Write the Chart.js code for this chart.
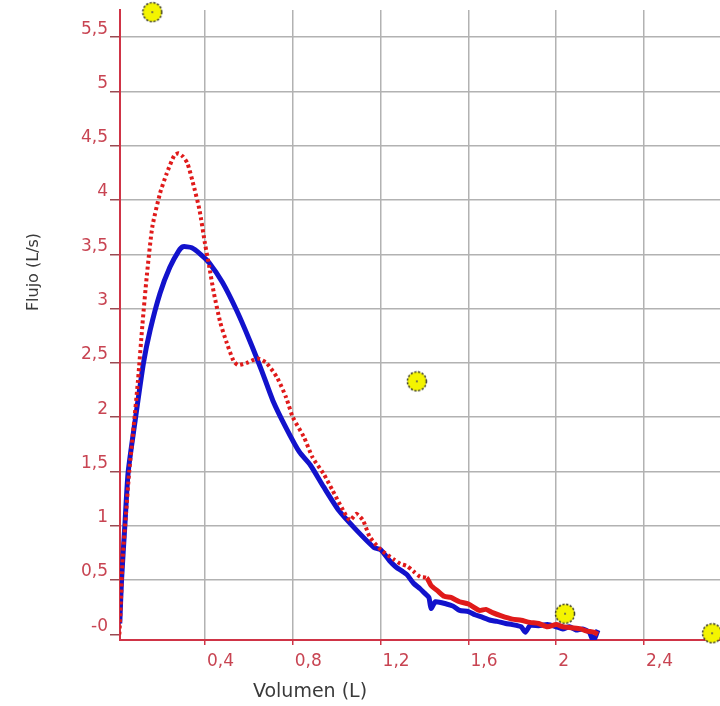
<!DOCTYPE html>
<html>
<head>
<meta charset="utf-8">
<script src="https://cdn.jsdelivr.net/npm/chart.js@4.4.1/dist/chart.umd.min.js"></script>
<style>
    html, body { margin: 0; padding: 0; background: #fff; }
    #wrap { width: 720px; height: 706px; }
</style>
</head>
<body>
<div id="wrap"><canvas id="flow"></canvas></div>
<script>
// flujo-volumen: curva medida (azul) y curva de referencia (roja punteada)
const blueCurve = [
    [0.01, 0.0], [0.012, 0.1], [0.02, 0.5], [0.035, 1.0], [0.05, 1.49], [0.08, 1.94],
    [0.12, 2.5], [0.15, 2.8], [0.195, 3.14], [0.24, 3.38], [0.28, 3.53], [0.3, 3.57],
    [0.34, 3.56], [0.38, 3.5], [0.42, 3.42], [0.48, 3.24], [0.545, 2.98], [0.605, 2.7],
    [0.66, 2.42], [0.71, 2.15], [0.77, 1.9], [0.83, 1.68], [0.88, 1.56], [0.94, 1.36],
    [1.01, 1.14], [1.09, 0.96], [1.17, 0.8], [1.2, 0.78], [1.24, 0.68], [1.27, 0.62],
    [1.3, 0.58], [1.32, 0.55], [1.35, 0.47], [1.38, 0.42], [1.4, 0.38], [1.42, 0.34],
    [1.43, 0.24], [1.45, 0.3], [1.5, 0.28], [1.53, 0.26], [1.56, 0.22], [1.6, 0.21],
    [1.63, 0.18], [1.66, 0.16], [1.7, 0.13], [1.73, 0.12], [1.77, 0.1], [1.8, 0.09],
    [1.84, 0.07], [1.86, 0.02], [1.88, 0.08], [1.92, 0.08], [1.96, 0.09], [2.0, 0.07],
    [2.03, 0.05], [2.06, 0.07], [2.09, 0.04], [2.12, 0.05], [2.15, 0.02], [2.17, -0.06],
    [2.19, 0.04]
];

const redCurve = [
    [0.01, 0.0], [0.015, 0.2], [0.025, 0.7], [0.04, 1.1], [0.055, 1.5], [0.075, 1.91],
    [0.095, 2.34], [0.115, 2.85], [0.135, 3.3], [0.16, 3.75], [0.195, 4.06], [0.225, 4.24],
    [0.26, 4.41], [0.28, 4.43], [0.3, 4.4], [0.32, 4.34], [0.345, 4.16], [0.375, 3.91],
    [0.4, 3.6], [0.42, 3.38], [0.44, 3.15], [0.47, 2.87], [0.5, 2.68], [0.53, 2.52],
    [0.55, 2.48], [0.59, 2.5], [0.64, 2.54], [0.68, 2.5], [0.73, 2.36], [0.77, 2.18],
    [0.8, 2.0], [0.85, 1.82], [0.89, 1.63], [0.94, 1.48], [0.98, 1.33], [1.03, 1.14],
    [1.06, 1.05], [1.09, 1.11], [1.12, 1.05], [1.15, 0.9], [1.2, 0.78], [1.26, 0.69],
    [1.29, 0.65], [1.32, 0.63], [1.35, 0.58], [1.38, 0.53], [1.41, 0.52], [1.43, 0.45],
    [1.46, 0.4], [1.49, 0.35], [1.52, 0.34], [1.56, 0.3], [1.6, 0.28], [1.65, 0.22],
    [1.68, 0.23], [1.71, 0.2], [1.75, 0.17], [1.8, 0.14], [1.84, 0.13], [1.88, 0.11],
    [1.92, 0.1], [1.96, 0.07], [2.0, 0.09], [2.03, 0.07], [2.07, 0.06], [2.11, 0.05],
    [2.14, 0.03], [2.17, 0.02], [2.19, 0.0]
];

// marcadores amarillos
const markers = [[0.16, 5.73], [1.365, 2.33], [2.04, 0.19], [2.71, 0.01]];

const xTickValues = [0.4, 0.8, 1.2, 1.6, 2.0, 2.4];
const xTickLabels = ['0,4', '0,8', '1,2', '1,6', '2', '2,4'];
const yTickValues = [0, 0.5, 1, 1.5, 2, 2.5, 3, 3.5, 4, 4.5, 5, 5.5];
const yTickLabels = ['-0', '0,5', '1', '1,5', '2', '2,5', '3', '3,5', '4', '4,5', '5', '5,5'];

const toXY = arr => arr.map(p => ({ x: p[0], y: p[1] }));

const AXIS_RED = '#cf3446';
const LABEL_RED = '#c84452';
const GRID = '#b2b2b2';

// punto amarillo con borde punteado
function makeMarker() {
    const c = document.createElement('canvas');
    c.width = 22; c.height = 22;
    const g = c.getContext('2d');
    g.beginPath();
    g.arc(11, 11, 9.5, 0, Math.PI * 2);
    g.fillStyle = '#f4f400';
    g.fill();
    g.setLineDash([2.2, 1.6]);
    g.lineWidth = 1.5;
    g.strokeStyle = '#3a3a2a';
    g.stroke();
    g.setLineDash([]);
    g.beginPath();
    g.arc(11, 11, 1, 0, Math.PI * 2);
    g.fillStyle = '#555';
    g.fill();
    return c;
}

const axisTitles = {
    id: 'axisTitles',
    afterDraw(chart) {
        const { ctx, chartArea } = chart;
        ctx.save();
        ctx.fillStyle = '#3a3a3a';
        ctx.textAlign = 'center';
        ctx.textBaseline = 'middle';
        ctx.font = '19px "DejaVu Sans"';
        ctx.fillText('Volumen (L)', chartArea.left + 190, 692);
        ctx.translate(34, chartArea.top + 262);
        ctx.rotate(-Math.PI / 2);
        ctx.font = '16px "DejaVu Sans"';
        ctx.fillText('Flujo (L/s)', 0, 0);
        ctx.restore();
    }
};

new Chart(document.getElementById('flow'), {
    type: 'scatter',
    data: {
        datasets: [
            {
                data: toXY(markers),
                pointStyle: makeMarker(),
                pointRadius: 11,
                showLine: false,
                clip: false,
                order: 0
            },
            {
                data: toXY(redCurve),
                showLine: true,
                borderColor: '#e01a1a',
                borderWidth: 4,
                borderDash: [3, 3],
                pointRadius: 0,
                tension: 0.2,
                segment: {
                    borderDash: ctx => ctx.p0.parsed.x > 1.38 ? [] : [3, 3],
                    borderWidth: ctx => ctx.p0.parsed.x > 1.38 ? 5 : 4
                },
                order: 1
            },
            {
                data: toXY(blueCurve),
                showLine: true,
                borderColor: '#1212cc',
                borderWidth: 5,
                pointRadius: 0,
                tension: 0.2,
                order: 2
            }
        ]
    },
    options: {
        responsive: true,
        maintainAspectRatio: false,
        animation: false,
        layout: {
            autoPadding: false,
            padding: { top: 10, right: 0, left: 0, bottom: 0 }
        },
        plugins: {
            legend: { display: false },
            tooltip: { enabled: false }
        },
        scales: {
            x: {
                type: 'linear',
                min: 0.013,
                max: 2.746,
                afterBuildTicks: scale => { scale.ticks = xTickValues.map(v => ({ value: v })); },
                afterFit: scale => {
                    scale.height = 66;
                    scale.paddingLeft = 0;
                    scale.paddingRight = 0;
                },
                ticks: {
                    callback: (v, i) => xTickLabels[i],
                    color: LABEL_RED,
                    font: { family: 'DejaVu Sans', size: 17 },
                    align: 'start',
                    labelOffset: 2,
                    padding: 6,
                    maxRotation: 0
                },
                grid: {
                    color: GRID,
                    lineWidth: 1.5,
                    tickLength: 5,
                    tickColor: AXIS_RED,
                    tickWidth: 1.5
                },
                border: { color: AXIS_RED, width: 2 }
            },
            y: {
                type: 'linear',
                min: -0.052,
                max: 5.75,
                afterBuildTicks: scale => { scale.ticks = yTickValues.map(v => ({ value: v })); },
                afterFit: scale => {
                    scale.width = 120;
                    scale.paddingTop = 0;
                    scale.paddingBottom = 0;
                },
                ticks: {
                    callback: (v, i) => yTickLabels[i],
                    color: LABEL_RED,
                    font: { family: 'DejaVu Sans', size: 17 },
                    labelOffset: -8,
                    padding: 2
                },
                grid: {
                    color: ctx => (ctx.tick && ctx.tick.value === 0) ? 'rgba(0,0,0,0)' : GRID,
                    lineWidth: 1.5,
                    tickLength: 10,
                    tickColor: '#9a4a52',
                    tickWidth: 1.5
                },
                border: { color: AXIS_RED, width: 2 }
            }
        }
    },
    plugins: [axisTitles]
});
</script>
</body>
</html>
